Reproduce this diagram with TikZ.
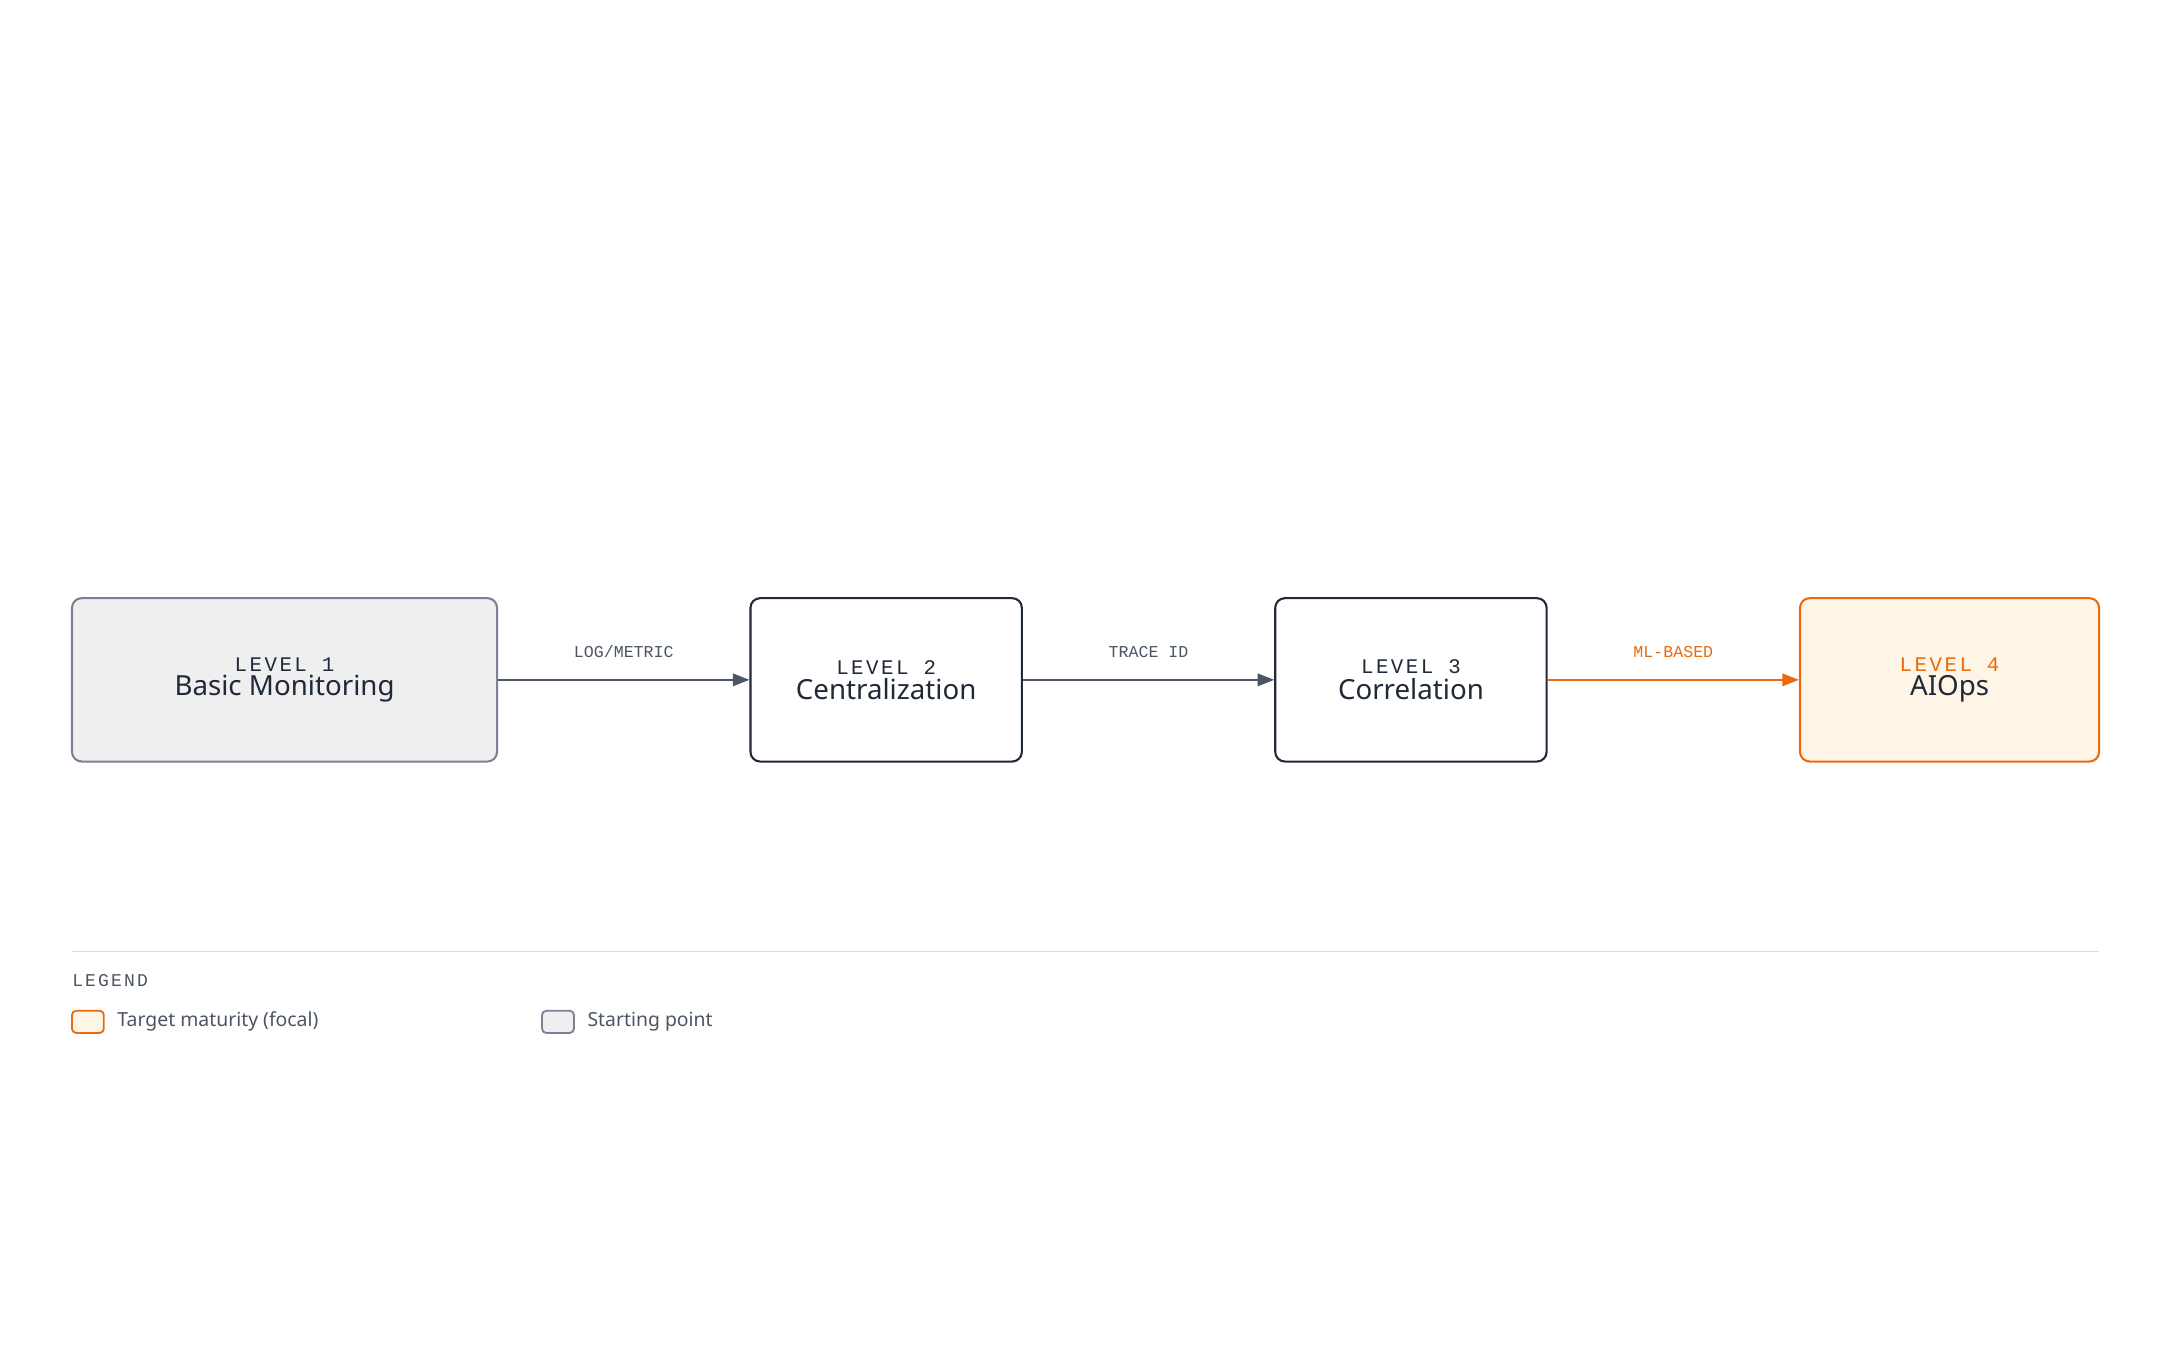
\documentclass[tikz,border=0pt]{standalone}
\usepackage{fontspec}
\setmainfont{Noto Sans}
\newfontfamily\monofam[LetterSpace=12]{Liberation Mono}
\newfontfamily\monoplain{Liberation Mono}
\usetikzlibrary{arrows.meta,positioning}
\definecolor{inkdark}{HTML}{1F2937}
\definecolor{inkgray}{HTML}{4B5563}
\definecolor{startbd}{HTML}{7A8294}
\definecolor{startbg}{HTML}{EFEFEF}
\definecolor{focal}{HTML}{EA6A0C}
\definecolor{focalbg}{HTML}{FEF5E6}
\definecolor{rulegray}{HTML}{DDDDDD}
\begin{document}
\begin{tikzpicture}[x=1pt,y=-1pt,
    stage/.style={draw=inkdark,line width=1.5pt,rounded corners=7pt,fill=white,
      minimum height=118pt,align=center,text=inkdark},
    start/.style={stage,draw=startbd,fill=startbg},
    target/.style={stage,draw=focal,fill=focalbg},
    flow/.style={-{Triangle[length=12pt,width=9pt]},line width=1.5pt,draw=inkgray},
    hot/.style={flow,draw=focal},
    elabel/.style={above=12pt,font=\monoplain\fontsize{12}{14}\selectfont,text=inkgray},
    swatch/.style={draw=#1,line width=1.3pt,rounded corners=3pt,minimum width=23pt,minimum height=16pt,inner sep=0pt}]
  \useasboundingbox (0,0) rectangle (1560,976);
  \newcommand{\lvl}[2]{{\monofam\fontsize{15}{18}\selectfont LEVEL #1}\\[2pt]{\fontsize{20}{24}\selectfont\bfseries #2}}
  \node[start,minimum width=307pt] (l1) at (205.5,491) {\lvl{1}{Basic Monitoring}};
  \node[stage,minimum width=196pt] (l2) at (640,491) {\lvl{2}{Centralization}};
  \node[stage,minimum width=196pt] (l3) at (1019,491) {\lvl{3}{Correlation}};
  \node[target,minimum width=216pt] (l4) at (1408,491)
    {{\monofam\fontsize{15}{18}\selectfont\color{focal}LEVEL 4}\\[2pt]{\fontsize{20}{24}\selectfont\bfseries AIOps}};
  \draw[flow] (l1) -- node[elabel] {LOG/METRIC} (l2);
  \draw[flow] (l2) -- node[elabel] {TRACE ID} (l3);
  \draw[hot] (l3) -- node[elabel,text=focal] {ML-BASED} (l4);
  % legend
  \coordinate (rulel) at (52,687);
  \coordinate (ruler) at (1516,687);
  \draw[rulegray,line width=1pt] (rulel) -- (ruler);
  \node[anchor=west,inner sep=0pt,text=inkgray,font=\monofam\fontsize{13}{15}\selectfont] (leg) at (52,708) {LEGEND};
  \node[swatch=focal,fill=focalbg] (sw1) at (63.5,738) {};
  \node[right=9pt of sw1,inner sep=0pt,text=inkgray,font=\fontsize{14}{17}\selectfont] (t1) {Target maturity (focal)};
  \node[swatch=startbd,fill=startbg] (sw2) at (403,738) {};
  \node[right=9pt of sw2,inner sep=0pt,text=inkgray,font=\fontsize{14}{17}\selectfont] (t2) {Starting point};
\end{tikzpicture}
\end{document}
